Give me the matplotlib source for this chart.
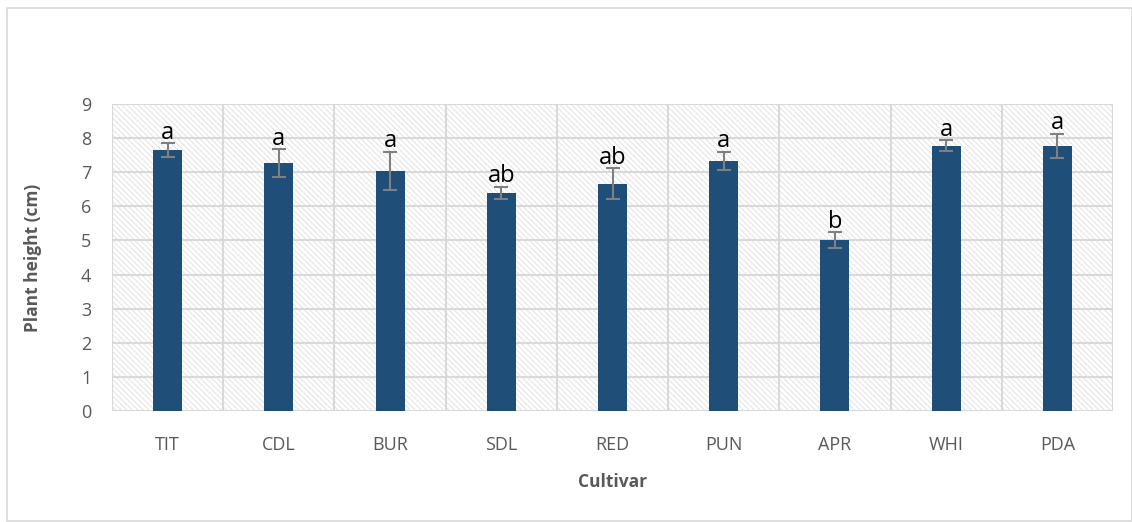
import numpy as np
import matplotlib
matplotlib.use('Agg')
import matplotlib.pyplot as plt
from matplotlib.patches import Rectangle

plt.rcParams['font.family'] = ['Open Sans', 'DejaVu Sans']
plt.rcParams['hatch.linewidth'] = 0.6

cultivars = ['TIT', 'CDL', 'BUR', 'SDL', 'RED', 'PUN', 'APR', 'WHI', 'PDA']
heights = [7.65, 7.27, 7.04, 6.39, 6.66, 7.33, 5.01, 7.77, 7.77]
errors = [0.20, 0.40, 0.55, 0.18, 0.45, 0.26, 0.23, 0.16, 0.36]
letters = ['a', 'a', 'a', 'ab', 'ab', 'a', 'b', 'a', 'a']

bar_color = '#1f4e79'
grid_color = '#d9d9d9'
text_color = '#595959'

fig = plt.figure(figsize=(11.32, 5.22), dpi=100)
# outer frame of the chart
fig.patches.append(Rectangle((0.006, 0.002), 0.994, 0.983, transform=fig.transFigure,
                             fill=False, edgecolor='#d9d9d9', linewidth=1.2))

ax = fig.add_axes([112 / 1132, 1 - 411 / 522, (1113 - 112) / 1132, (411 - 104) / 522])

x = np.arange(len(cultivars))
ax.set_xlim(-0.5, len(cultivars) - 0.5)
ax.set_ylim(0, 9)

# hatched background
ax.add_patch(Rectangle((0, 0), 1, 1, transform=ax.transAxes, facecolor='white',
                       edgecolor='#dedede', hatch='\\' * 6, linewidth=0, zorder=0))

# gridlines: horizontal at ticks, vertical at category boundaries
for yv in range(0, 10):
    ax.axhline(yv, color=grid_color, linewidth=1.5, zorder=1)
for xv in np.arange(-0.5, len(cultivars), 1.0):
    ax.axvline(xv, color=grid_color, linewidth=1.5, zorder=1)

ax.bar(x, heights, width=0.26, color=bar_color, zorder=3)
ax.errorbar(x, heights, yerr=errors, fmt='none', ecolor='#808080', elinewidth=1.5,
            capsize=5, capthick=1.5, zorder=4)

for xi, h, e, lab in zip(x, heights, errors, letters):
    ax.text(xi, h + e - 0.04, lab, ha='center', va='bottom', fontsize=17, color='black', zorder=5)

for s in ax.spines.values():
    s.set_visible(False)

ax.set_xticks(x)
ax.set_xticklabels(cultivars)
ax.set_yticks(range(0, 10))
ax.tick_params(axis='both', length=0, labelsize=13, colors=text_color)
ax.tick_params(axis='x', pad=18)
ax.tick_params(axis='y', pad=15)

ax.set_ylabel('Plant height (cm)', fontsize=12.5, fontweight='bold', color=text_color, labelpad=28)
ax.set_xlabel('Cultivar', fontsize=12.5, fontweight='bold', color=text_color, labelpad=14)

fig.savefig('out.png', dpi=100)
